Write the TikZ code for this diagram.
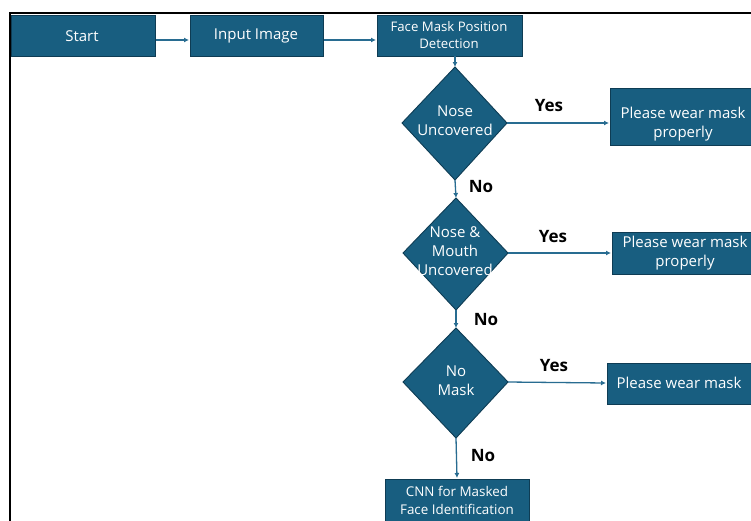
\documentclass[tikz,border=0pt]{standalone}
\usepackage{fontspec}
\setmainfont{Open Sans}
\usetikzlibrary{shapes.geometric,arrows.meta}
\definecolor{boxfill}{RGB}{24,94,128}
\definecolor{boxline}{RGB}{14,60,84}
\definecolor{arr}{RGB}{40,108,145}
\tikzset{
  pbox/.style={draw=boxline,line width=0.9pt,fill=boxfill},
  dbox/.style={draw=boxline,line width=0.9pt,fill=boxfill},
  txt/.style={text=white,align=center,inner sep=0pt,font=\fontsize{15}{19}\selectfont},
  conn/.style={draw=arr,line width=1.3pt,-{Latex[length=5pt,width=5pt]}},
  lbl/.style={font=\fontsize{17}{19}\selectfont\bfseries,text=black,inner sep=0pt},
}
\begin{document}
\begin{tikzpicture}[x=1pt,y=-1pt]
\useasboundingbox (0,0) rectangle (751,520);
% frame
\draw[black,line width=2pt] (752,13) -- (10,13) -- (10,521);
% top row
\path[pbox] (11,15) rectangle (155,56);
\node[txt] (start) at (82,36) {Start};
\coordinate (startE) at (156,40);
\path[pbox] (190,15) rectangle (323,56);
\node[txt] (input) at (256,36) {Input Image};
\coordinate (inputW) at (189,40);
\coordinate (inputE) at (324,40);
\path[pbox] (377,15) rectangle (522,56);
\node[txt,font=\fontsize{13.2}{17.5}\selectfont] (fmpd) at (449,35) {Face Mask Position\\Detection};
\coordinate (fmpdW) at (376,40);
\coordinate (fmpdS) at (455,56);
% diamonds
\path[dbox] (455,67) -- (507,123) -- (455,180) -- (402,123) -- cycle;
\node[txt] (d1) at (455,121) {Nose\\Uncovered};
\coordinate (d1N) at (455,67);
\coordinate (d1E) at (507,123);
\coordinate (d1S) at (455,180);
\path[dbox] (456,198) -- (508,253) -- (456,310) -- (403,253) -- cycle;
\node[txt] (d2) at (455,251) {Nose \&\\Mouth\\Uncovered};
\coordinate (d2N) at (456,198);
\coordinate (d2E) at (508,253);
\coordinate (d2S) at (456,310);
\path[dbox] (456,328) -- (508,382) -- (456,438) -- (403,382) -- cycle;
\node[txt] (d3) at (456,381) {No\\Mask};
\coordinate (d3N) at (456,328);
\coordinate (d3E) at (508,382);
\coordinate (d3S) at (456,438);
% right boxes
\path[pbox] (610,88) rectangle (753,145);
\node[txt] (r1) at (683,124) {Please wear mask\\properly};
\coordinate (r1W) at (609,123);
\path[pbox] (612,232) rectangle (753,274);
\node[txt] (r2) at (685,253) {Please wear mask\\properly};
\coordinate (r2W) at (611,253);
\path[pbox] (607,363) rectangle (751,404);
\node[txt] (r3) at (679,383) {Please wear mask};
\coordinate (r3W) at (606,383);
% bottom box
\path[pbox] (385,479) rectangle (529,522);
\node[txt,font=\fontsize{13.4}{18}\selectfont] (cnn) at (457,500) {CNN for Masked\\Face Identification};
\coordinate (cnnN) at (457,478);
% connectors
\draw[conn] (startE) -- (inputW);
\draw[conn] (inputE) -- (fmpdW);
\draw[conn] (fmpdS) -- (d1N);
\draw[conn] (d1E) -- (r1W);
\draw[conn] (d1S) -- (d2N);
\draw[conn] (d2E) -- (r2W);
\draw[conn] (d2S) -- (d3N);
\draw[conn] (d3E) -- (r3W);
\draw[conn] (d3S) -- (cnnN);
% labels
\node[lbl] (y1) at (549,106) {Yes};
\node[lbl] (n1) at (481,187) {No};
\node[lbl] (y2) at (553,237) {Yes};
\node[lbl] (n2) at (486,320) {No};
\node[lbl] (y3) at (554,366) {Yes};
\node[lbl] (n3) at (483,456) {No};
\end{tikzpicture}
\end{document}
